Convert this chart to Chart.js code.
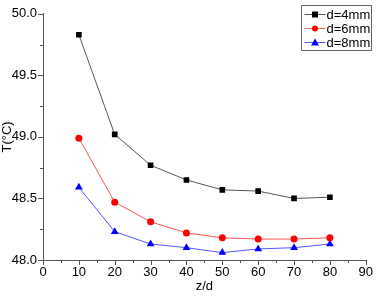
<!DOCTYPE html>
<html>
<head>
<meta charset="utf-8">
<script src="https://cdn.jsdelivr.net/npm/chart.js@4"></script>
<style>
  html, body { margin: 0; padding: 0; background: #fff; }
  #wrap { width: 378px; height: 296px; }
</style>
</head>
<body>
<div id="wrap"><canvas id="myChart"></canvas></div>
<script>
// dados
const zd = [10, 20, 30, 40, 50, 60, 70, 80];
const d4 = [49.83, 49.02, 48.77, 48.65, 48.57, 48.56, 48.50, 48.51];
const d6 = [48.99, 48.47, 48.31, 48.22, 48.18, 48.17, 48.17, 48.18];
const d8 = [48.59, 48.23, 48.13, 48.10, 48.06, 48.09, 48.10, 48.13];
const seriesNames = ["d=4mm", "d=6mm", "d=8mm"];

const FONT = "Liberation Sans, Arial, sans-serif";

function pts(vals) {
  return zd.map((x, i) => ({ x: x, y: vals[i] }));
}

// ticks menores e maiores desenhados para fora (estilo Origin)
const tickPlugin = {
  id: "originTicks",
  afterDraw(chart) {
    const c = chart.ctx;
    const xs = chart.scales.x, ys = chart.scales.y;
    const a = chart.chartArea;
    c.save();
    c.strokeStyle = "#555";
    c.lineWidth = 1;
    c.beginPath();
    for (let v = 0; v <= 90; v += 5) {
      const px = Math.round(xs.getPixelForValue(v)) + 0.5;
      const len = v % 10 === 0 ? 5 : 3;
      c.moveTo(px, a.bottom);
      c.lineTo(px, a.bottom + len);
    }
    for (let v = 48; v <= 50.001; v += 0.25) {
      const py = Math.round(ys.getPixelForValue(v)) + 0.5;
      const len = Math.abs(v * 2 - Math.round(v * 2)) < 0.01 ? 5 : 3;
      c.moveTo(a.left, py);
      c.lineTo(a.left - len, py);
    }
    c.stroke();
    c.restore();
  }
};

// legenda com caixa no canto superior direito
const legendPlugin = {
  id: "boxLegend",
  afterDraw(chart) {
    const c = chart.ctx;
    const bx = 301.5, by = 5.5, bw = 70, bh = 45;
    c.save();
    c.strokeStyle = "#666";
    c.lineWidth = 1;
    c.strokeRect(bx, by, bw, bh);
    c.font = "13px " + FONT;
    c.textBaseline = "middle";
    c.fillStyle = "#000";
    chart.data.datasets.forEach((ds, i) => {
      const y = by + 9 + i * 14;
      c.strokeStyle = ds.borderColor;
      c.beginPath();
      c.moveTo(bx + 3, y);
      c.lineTo(bx + 24, y);
      c.stroke();
      c.fillStyle = ds.pointBackgroundColor;
      c.beginPath();
      if (ds.pointStyle === "rect") {
        c.rect(bx + 10.5, y - 3, 6, 6);
      } else if (ds.pointStyle === "circle") {
        c.arc(bx + 13.5, y, 3, 0, Math.PI * 2);
      } else {
        c.moveTo(bx + 13.5, y - 4);
        c.lineTo(bx + 17.5, y + 3);
        c.lineTo(bx + 9.5, y + 3);
        c.closePath();
      }
      c.fill();
      c.fillStyle = "#000";
      c.fillText(ds.label, bx + 25, y + 1);
    });
    c.restore();
  }
};

const ctx = document.getElementById("myChart");

new Chart(ctx, {
  type: "line",
  data: {
    datasets: [
      {
        label: seriesNames[0],
        data: pts(d4),
        borderWidth: 1,
        borderColor: "#555555",
        pointStyle: "rect",
        pointRadius: 4,
        pointBackgroundColor: "#000000",
        pointBorderColor: "#000000",
        pointBorderWidth: 0,
      },
      {
        label: seriesNames[1],
        data: pts(d6),
        borderWidth: 1,
        borderColor: "#ff5555",
        pointStyle: "circle",
        pointRadius: 3.5,
        pointBackgroundColor: "#ff0000",
        pointBorderColor: "#ff0000",
        pointBorderWidth: 0,
      },
      {
        label: seriesNames[2],
        data: pts(d8),
        borderWidth: 1,
        borderColor: "#5555ff",
        pointStyle: "triangle",
        pointRadius: 4.5,
        pointBackgroundColor: "#0000ff",
        pointBorderColor: "#0000ff",
        pointBorderWidth: 0,
      },
    ],
  },
  options: {
    responsive: true,
    maintainAspectRatio: false,
    animation: false,
    layout: { padding: { top: 6, right: 6, left: 0, bottom: 0 } },
    plugins: {
      legend: { display: false },
      tooltip: { enabled: false },
    },
    scales: {
      x: {
        type: "linear",
        min: 0,
        max: 90,
        ticks: { stepSize: 10, color: "#000", font: { family: FONT, size: 13 }, padding: 5, maxRotation: 0 },
        grid: { display: false, drawTicks: false },
        border: { display: true, color: "#555", width: 1 },
        title: { display: true, text: "z/d", color: "#000", font: { family: FONT, size: 13 }, padding: { top: 0, bottom: 2 } },
        afterFit(scale) { scale.height = 36; },
      },
      y: {
        min: 48,
        max: 50,
        ticks: {
          stepSize: 0.5,
          color: "#000",
          font: { family: FONT, size: 13 },
          padding: 6,
          callback: (v) => Number(v).toFixed(1),
        },
        grid: { display: false, drawTicks: false },
        border: { display: true, color: "#555", width: 1 },
        title: { display: true, text: "T(°C)", color: "#000", font: { family: FONT, size: 13 }, padding: { top: 0, bottom: 0 } },
        afterFit(scale) { scale.width = 43; },
      },
    },
  },
  plugins: [tickPlugin, legendPlugin],
});
</script>
</body>
</html>
